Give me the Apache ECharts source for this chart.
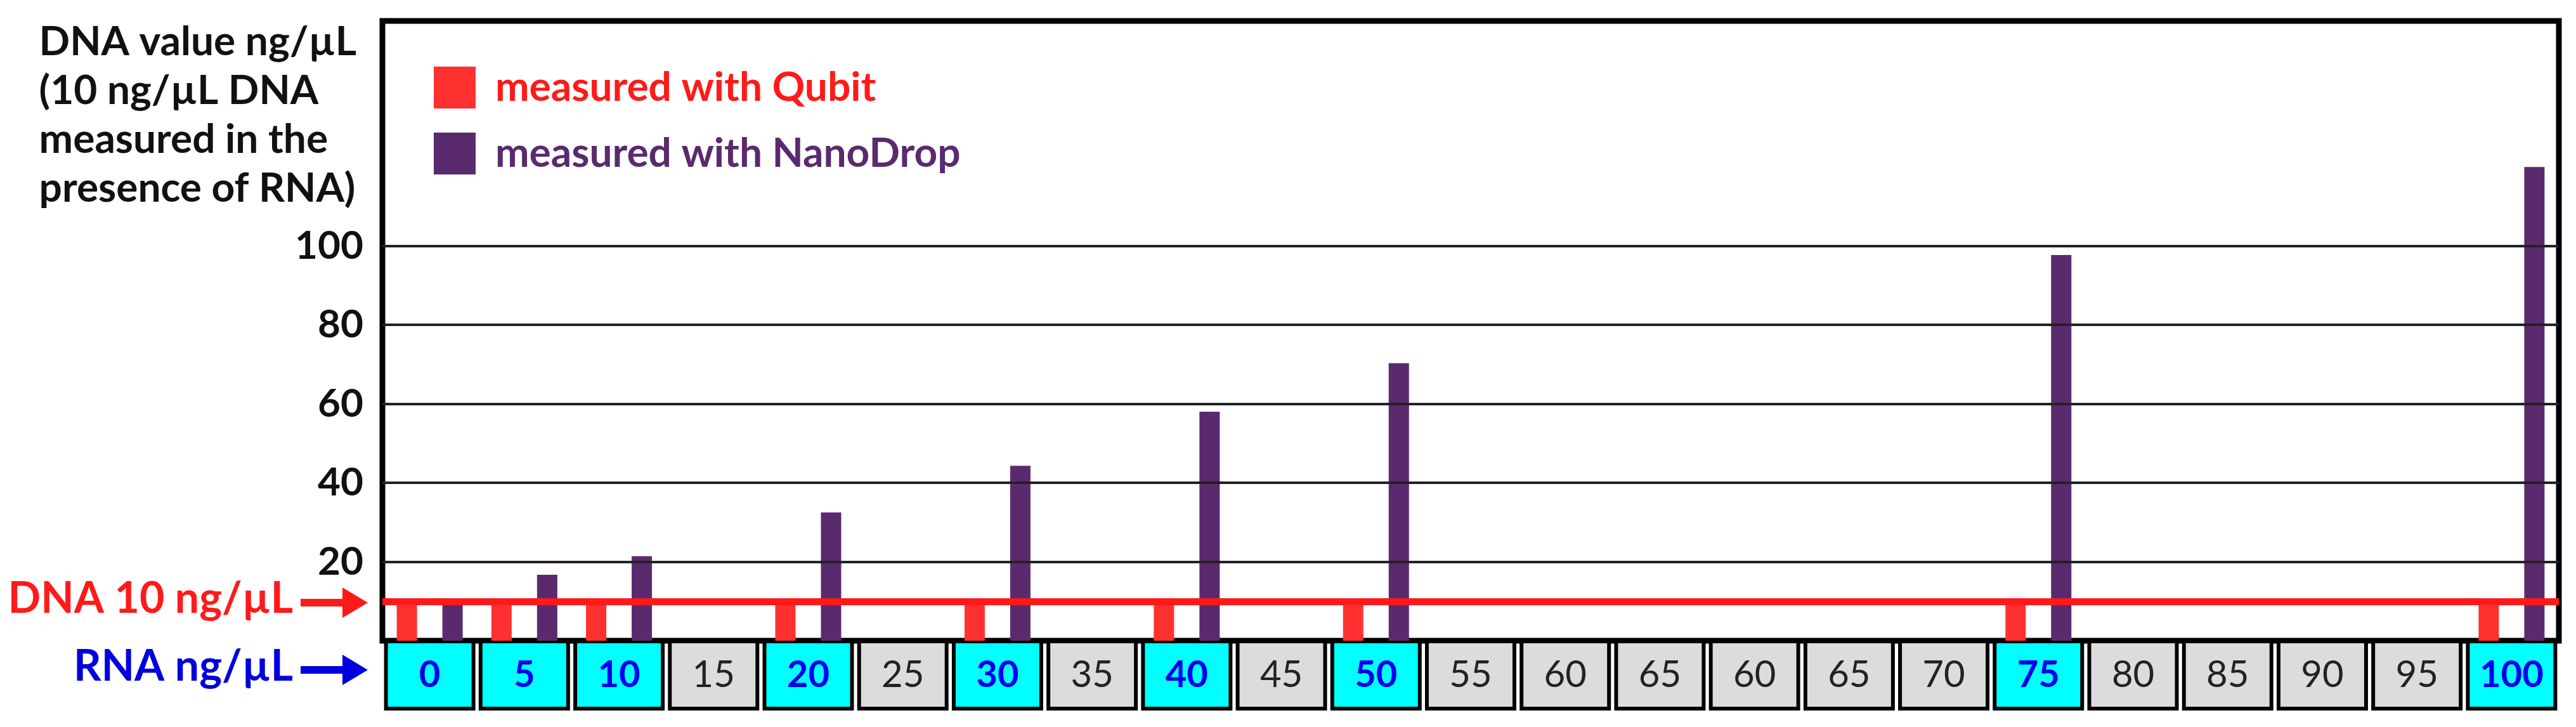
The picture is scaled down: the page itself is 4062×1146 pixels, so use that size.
<!DOCTYPE html>
<html>
<head>
<meta charset="UTF-8">
<title></title>
<script src="https://cdn.jsdelivr.net/npm/echarts@6/dist/echarts.min.js"></script>
<style type="text/css">
	html,body{margin:0;padding:0;background:#fff;}
	#main{width:4062px;height:1146px;}
</style>
</head>
<body>
<div id="main"></div>
<script>
// RNA amounts (as printed on the axis, including the repeated 60/65)
var rnaLabels = ['0','5','10','15','20','25','30','35','40','45','50','55','60','65','60','65','70','75','80','85','90','95','100'];
var measured = [0,1,2,4,6,8,10,17,22];   // indexes with cyan boxes
var qubit = [10,10,10,null,10,null,10,null,10,null,10,null,null,null,null,null,null,10,null,null,null,null,10];
var nanodrop = [10,16.7,21.4,null,32.5,null,44.3,null,58,null,70.3,null,null,null,null,null,null,97.7,null,null,null,null,120];
var gridVals = [20,40,60,80,100];
var refValue = 10;

var font = 'Lato';
var myChart = echarts.init(document.getElementById('main'));
var option = {
	textStyle:{fontFamily:font},
	animation:false,
	legend:{
		orient:'vertical',
		left:679, top:100,
		icon:'rect',
		itemWidth:66, itemHeight:66, itemGap:38,
		data:[
			{name:'measured with Qubit', textStyle:{color:'#ff1a1a'}},
			{name:'measured with NanoDrop', textStyle:{color:'#5a2a6e'}}
		],
		textStyle:{fontSize:64, fontWeight:'bold', fontFamily:font, padding:[0,0,0,26]}
	},
	grid:{
		left:603, right:27, top:33, bottom:136,
		show:true, borderColor:'#000', borderWidth:9, backgroundColor:'#fff'
	},
	xAxis:{
		type:'category',
		data:rnaLabels,
		axisLine:{show:true, lineStyle:{color:'#000', width:8}},
		axisTick:{show:false},
		axisLabel:{
			interval:0, margin:4,
			formatter:function(v, i){ return (measured.indexOf(i) >= 0 ? '{c|' : '{g|') + v + '}'; },
			rich:{
				c:{backgroundColor:'#00ffff', color:'#0000ee', fontSize:58, fontWeight:'bold', fontFamily:font, width:132, height:100, align:'center', borderColor:'#000', borderWidth:6},
				g:{backgroundColor:'#dcdcdc', color:'#222', fontSize:58, fontFamily:font, width:132, height:100, align:'center', borderColor:'#000', borderWidth:6}
			}
		}
	},
	yAxis:{
		type:'value', min:0, max:157, interval:20,
		axisLine:{show:false}, axisTick:{show:false},
		splitLine:{show:false},
		axisLabel:{
			fontSize:62, fontWeight:'bold', color:'#111', fontFamily:font, margin:30,
			formatter:function(v){ return (v > 0 && v <= 100) ? v : ''; }
		}
	},
	series:[
		{
			name:'measured with Qubit', type:'bar', data:qubit,
			barWidth:32, barGap:'125%', itemStyle:{color:'#ff3030'},
			markLine:{
				symbol:'none', silent:true, label:{show:false},
				lineStyle:{color:'#ff1a1a', width:11, type:'solid'},
				data:[{yAxis:refValue}]
			},
			z:3
		},
		{
			name:'measured with NanoDrop', type:'bar', data:nanodrop,
			barWidth:32, itemStyle:{color:'#5a2a6e'},
			markLine:{
				symbol:'none', silent:true, label:{show:false},
				lineStyle:{color:'#222', width:4, type:'solid'},
				data:gridVals.map(function(v){ return {yAxis:v}; })
			},
			z:2
		}
	],
	graphic:[
		{type:'text', right:4062-562, top:28, style:{
			text:'DNA value ng/µL\n(10 ng/µL DNA\nmeasured in the\npresence of RNA)',
			font:'bold 64px Lato', fill:'#111', align:'right', lineHeight:77
		}},
		{type:'text', right:4062-462, top:910, style:{text:'DNA 10 ng/µL', font:'bold 68px Lato', fill:'#ff1a1a', align:'right'}},
		{type:'line', shape:{x1:474, y1:950, x2:545, y2:950}, style:{stroke:'#ff1a1a', lineWidth:12}},
		{type:'polygon', shape:{points:[[540,926],[580,950],[540,974]]}, style:{fill:'#ff1a1a'}},
		{type:'text', right:4062-462, top:1017, style:{text:'RNA ng/µL', font:'bold 68px Lato', fill:'#0000dd', align:'right'}},
		{type:'line', shape:{x1:474, y1:1056, x2:545, y2:1056}, style:{stroke:'#0000dd', lineWidth:12}},
		{type:'polygon', shape:{points:[[540,1032],[580,1056],[540,1080]]}, style:{fill:'#0000dd'}}
	]
};
myChart.setOption(option);
</script>
</body>
</html>
